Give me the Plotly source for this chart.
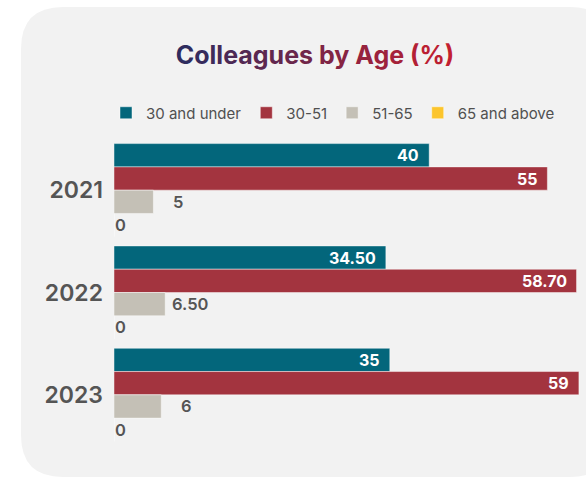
import plotly.graph_objects as go

# ---------------- data ----------------
years = ["2021", "2022", "2023"]
series_names = ["30 and under", "30-51", "51-65", "65 and above"]
under_30 = [40, 34.5, 35]
age_30_51 = [55, 58.7, 59]
age_51_65 = [5, 6.5, 6]
age_65_up = [0, 0, 0]
series_values = [under_30, age_30_51, age_51_65, age_65_up]
series_colors = ["#03667b", "#a3343f", "#c4c0b6", "#fcc52c"]
title_text = "Colleagues by Age (%)"

# ---------------- geometry ----------------
W, H = 586, 478
ML, MR, MT, MB = 114, 0, 139, 32
PW, PH = W - ML - MR, H - MT - MB
XMAX = 59.9
BARGAP = 0.09
FONT = "Inter"


def px(x):
    return (x - ML) / PW


def py(y):
    return (H - MB - y) / PH


def fmt(v):
    return str(int(v)) if float(v).is_integer() else f"{v:.2f}"


def lerp_color(c1, c2, t):
    a = [int(c1[i:i + 2], 16) for i in (1, 3, 5)]
    b = [int(c2[i:i + 2], 16) for i in (1, 3, 5)]
    return "#" + "".join(f"{round(a[i] + (b[i] - a[i]) * t):02x}" for i in range(3))


fig = go.Figure()
for name, vals, col in zip(series_names, series_values, series_colors):
    fig.add_trace(go.Bar(
        y=years, x=vals, name=name, orientation="h",
        marker=dict(color=col, line=dict(color="rgba(255,255,255,0.45)", width=1)),
        hoverinfo="skip",
    ))

# data labels
nser = len(series_values)
bw = (1 - BARGAP) / nser
annotations = []
for k, vals in enumerate(series_values):
    off = -(1 - BARGAP) / 2 + (k + 0.5) * bw
    for i, v in enumerate(vals):
        if k < 2:
            annotations.append(dict(
                x=v, y=i + off, xref="x", yref="y", text=fmt(v), showarrow=False,
                xanchor="right", yanchor="middle", xshift=-8,
                font=dict(family=FONT, size=16, color="white", weight=700)))
        elif k == 2:
            annotations.append(dict(
                x=v, y=i + off, xref="x", yref="y", text=fmt(v), showarrow=False,
                xanchor="center", yanchor="middle", xshift=25,
                font=dict(family=FONT, size=16.5, color="#555555", weight=600)))
        else:
            annotations.append(dict(
                x=v, y=i + off, xref="x", yref="y", text=fmt(v), showarrow=False,
                xanchor="left", yanchor="middle", xshift=-1,
                font=dict(family=FONT, size=16.5, color="#555555", weight=600)))

# gradient title
n = len(title_text)
title_html = "".join(
    f"<span style='color:{lerp_color('#2f2c5e', '#c21f30', i / (n - 1))}'>{ch}</span>"
    for i, ch in enumerate(title_text))

# card background
x0, x1, y0, y1, r = 21, 612, 7, 477, 42
path = (f"M {px(x0 + r)},{py(y0)} L {px(x1 - r)},{py(y0)} "
        f"Q {px(x1)},{py(y0)} {px(x1)},{py(y0 + r)} "
        f"L {px(x1)},{py(y1 - r)} Q {px(x1)},{py(y1)} {px(x1 - r)},{py(y1)} "
        f"L {px(x0 + r)},{py(y1)} Q {px(x0)},{py(y1)} {px(x0)},{py(y1 - r)} "
        f"L {px(x0)},{py(y0 + r)} Q {px(x0)},{py(y0)} {px(x0 + r)},{py(y0)} Z")

fig.update_layout(
    width=W, height=H,
    margin=dict(l=ML, r=MR, t=MT, b=MB, pad=0),
    paper_bgcolor="white",
    plot_bgcolor="rgba(0,0,0,0)",
    barmode="group", bargap=BARGAP, bargroupgap=0,
    font=dict(family=FONT, color="#555555"),
    title=dict(text=title_html, x=315 / W, xanchor="center", y=1 - 55 / H,
               yanchor="middle", xref="container", yref="container",
               font=dict(family=FONT, size=25, weight=700)),
    legend=dict(orientation="h", x=px(333), xanchor="center", y=py(113),
                yanchor="middle", font=dict(family=FONT, size=15, color="#505050"),
                bgcolor="rgba(0,0,0,0)", itemwidth=30, traceorder="normal",
                itemclick=False, itemdoubleclick=False),
    shapes=[dict(type="path", path=path, xref="paper", yref="paper",
                 fillcolor="#f2f2f2", line=dict(width=0), layer="below")],
    annotations=annotations,
    showlegend=True,
)
fig.update_xaxes(range=[0, XMAX], visible=False, fixedrange=True)
fig.update_yaxes(autorange="reversed", showgrid=False, zeroline=False, showline=False,
                 ticks="", ticklabelstandoff=10, fixedrange=True,
                 tickfont=dict(family=FONT, size=23, color="#555555", weight=600))

fig.write_html(
    "out.html",
    config={"displayModeBar": False},
    post_script="document.body.style.margin='0';document.body.style.overflow='hidden';",
)
